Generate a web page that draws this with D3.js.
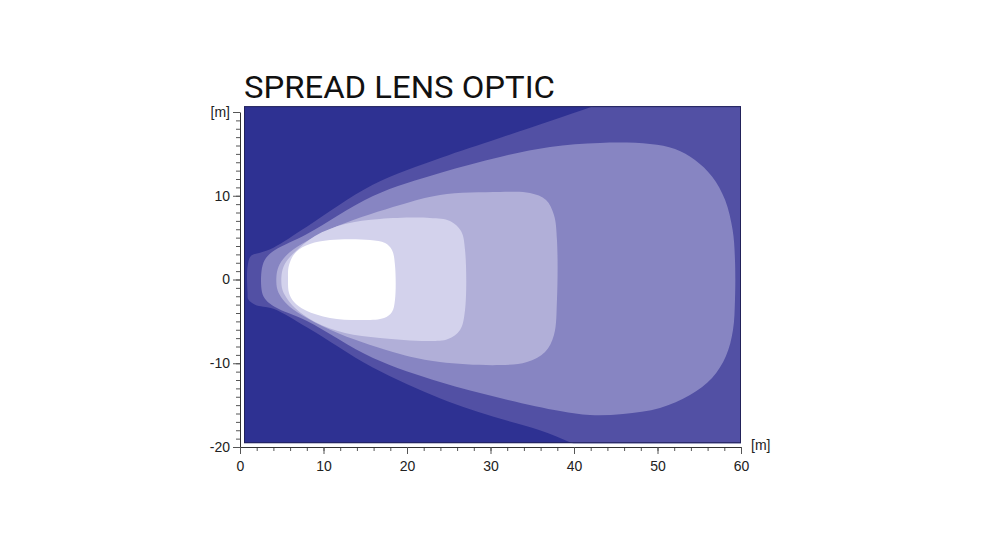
<!DOCTYPE html>
<html><head><meta charset="utf-8">
<script src="https://cdn.jsdelivr.net/npm/d3@7"></script>
<style>body{margin:0;background:#fff}</style>
</head><body><svg id="c" width="1000" height="556"></svg>
<script>
// ---------- data ----------
const title = "SPREAD LENS OPTIC";
const xTicks = [0, 10, 20, 30, 40, 50, 60];
const xTickLabels = ["0", "10", "20", "30", "40", "50", "60"];
const xMinorTicks = d3.range(0, 61, 2);
const yTicks = [-20, -10, 0, 10, 20];
const yTickLabels = ["-20", "-10", "0", "10", "[m]"];
const yMinorTicks = d3.range(-20, 21, 1);
const xUnit = "[m]";
const fieldX = [0.48, 60];      // extent of the calculated field [m]
const fieldY = [-19.55, 20.7];

// isolux contours, outer to inner, in metres [x, y]
const band1 = [[0.9,-1.5],[0.9,1.5],[1.3,2.8],[2.4,3.2],[4.0,3.8],[8.0,6.3],[15.9,11.3],[24.0,14.5],[31.1,16.9],[42.3,20.7],[50,23.5],[70,25],[70,-25],[45,-22],[39.9,-19.6],[35.9,-18.0],[31.1,-16.6],[24.0,-14.2],[15.9,-10.5],[8.0,-5.7],[4.0,-3.5],[1.8,-3.0],[1.0,-2.4]];
const band2 = [[2.63,1.37],[3.11,2.57],[4.19,3.52],[8.02,5.44],[15.93,9.98],[23.95,12.72],[31.14,14.64],[37.13,15.83],[43.11,16.31],[49.1,16.19],[52.1,15.59],[54.49,14.28],[56.53,12.3],[58.1,9.5],[59.0,5.9],[59.28,2.33],[59.28,-2.45],[59.04,-6.03],[58.2,-9.14],[56.53,-11.77],[53.89,-13.8],[50.3,-15.35],[45.87,-16.07],[41.92,-16.19],[38.32,-15.71],[31.14,-14.16],[23.95,-12.25],[15.93,-9.38],[8.02,-4.96],[4.19,-3.29],[3.11,-2.45],[2.63,-1.49]];
const band3 = [[4.43,0.9],[4.91,2.09],[5.99,3.29],[8.02,4.6],[11.98,6.51],[19.16,8.9],[23.95,10.1],[31.14,10.45],[34.73,10.33],[36.65,9.5],[37.6,7.71],[37.96,4.72],[37.96,-2.45],[37.6,-6.63],[36.53,-8.66],[34.37,-9.86],[31.14,-10.22],[23.95,-9.86],[19.16,-8.9],[11.98,-6.51],[8.02,-4.6],[5.99,-3.29],[4.91,-2.09],[4.43,-1.02]];
const band4 = [[5.03,0.9],[5.51,2.09],[6.59,3.29],[8.98,5.2],[12.57,6.63],[16.77,7.23],[22.75,7.35],[25.15,6.99],[26.47,5.79],[26.95,3.52],[26.95,-3.64],[26.35,-6.03],[24.91,-7.11],[22.75,-7.35],[16.77,-6.99],[12.57,-6.39],[8.98,-5.08],[6.59,-3.41],[5.51,-2.09],[5.03,-1.02]];
const band5 = [[5.75,-0.06],[5.87,1.73],[6.71,3.29],[8.38,4.24],[10.78,4.72],[15.57,4.72],[17.37,4.36],[18.2,3.52],[18.56,1.73],[18.56,-2.45],[18.2,-3.88],[17.25,-4.6],[14.97,-4.84],[10.78,-4.6],[7.78,-3.64],[6.47,-2.69],[5.87,-1.61]];
const bands = [band1, band2, band3, band4, band5];
const backgroundColor = "#2e3192";
const bandColors = ["#5250a4", "#8785c2", "#b1afd8", "#d3d2ec", "#ffffff"];

// ---------- drawing ----------
const svg = d3.select("#c");
const x = d3.scaleLinear([0, 60], [240, 741]);
const y = d3.scaleLinear([-20, 20], [447, 112]);

svg.append("text").attr("x", 244).attr("y", 97.5)
  .attr("font-family", "Roboto, 'DejaVu Sans', sans-serif").attr("font-size", 31.5)
  .attr("fill", "#111").attr("textLength", 311).attr("lengthAdjust", "spacingAndGlyphs")
  .text(title);

const defs = svg.append("defs");
defs.append("clipPath").attr("id", "field").append("rect")
  .attr("x", x(fieldX[0])).attr("y", y(fieldY[1]))
  .attr("width", x(fieldX[1]) - x(fieldX[0])).attr("height", y(fieldY[0]) - y(fieldY[1]));

const g = svg.append("g").attr("clip-path", "url(#field)");
g.append("rect")
  .attr("x", x(fieldX[0])).attr("y", y(fieldY[1]))
  .attr("width", x(fieldX[1]) - x(fieldX[0])).attr("height", y(fieldY[0]) - y(fieldY[1]))
  .attr("fill", backgroundColor);

const line = d3.line().x(d => x(d[0])).y(d => y(d[1])).curve(d3.curveCatmullRomClosed.alpha(0.5));
g.selectAll("path.band").data(bands).join("path").attr("class", "band")
  .attr("d", d => line(d)).attr("fill", (d, i) => bandColors[i]);

svg.append("rect")
  .attr("x", x(fieldX[0]) + 0.5).attr("y", y(fieldY[1]) + 0.5)
  .attr("width", x(fieldX[1]) - x(fieldX[0]) - 1).attr("height", y(fieldY[0]) - y(fieldY[1]) - 1)
  .attr("fill", "none").attr("stroke", "#22225a").attr("stroke-width", 1);

const font = "'Liberation Sans', Arial, sans-serif";
// y axis
const yMinor = svg.append("g").attr("transform", `translate(${x(0)},0)`)
  .call(d3.axisLeft(y).tickValues(yMinorTicks).tickSize(4).tickSizeOuter(0).tickFormat(""));
yMinor.select(".domain").remove();
const yAx = svg.append("g").attr("transform", `translate(${x(0)},0)`)
  .call(d3.axisLeft(y).tickValues(yTicks).tickSize(7).tickSizeOuter(0).tickPadding(3)
    .tickFormat((d, i) => yTickLabels[i]));
// x axis
const xMinor = svg.append("g").attr("transform", `translate(0,${y(-20)})`)
  .call(d3.axisBottom(x).tickValues(xMinorTicks).tickSize(4).tickSizeOuter(0).tickFormat(""));
xMinor.select(".domain").remove();
const xAx = svg.append("g").attr("transform", `translate(0,${y(-20)})`)
  .call(d3.axisBottom(x).tickValues(xTicks).tickSize(7).tickSizeOuter(0).tickPadding(7)
    .tickFormat((d, i) => xTickLabels[i]));

svg.selectAll(".tick text").attr("font-family", font).attr("font-size", 14).attr("fill", "#222");
svg.selectAll(".tick line").attr("stroke", "#555");
svg.selectAll(".domain").attr("stroke", "#333");

svg.append("text").attr("x", x(60) + 10).attr("y", y(-20) + 3)
  .attr("font-family", font).attr("font-size", 14).attr("fill", "#222").text(xUnit);
</script></body></html>
